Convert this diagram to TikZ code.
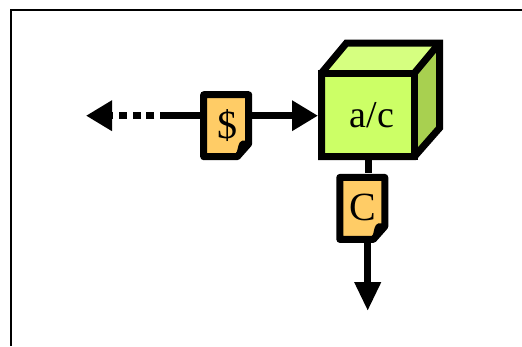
\documentclass[tikz,border=0pt]{standalone}
\usepackage{fontspec}
\setmainfont{Liberation Serif}
\usetikzlibrary{arrows.meta}
\definecolor{cubefront}{HTML}{CCFF66}
\definecolor{cubetop}{HTML}{D6FF80}
\definecolor{cubeside}{HTML}{A8D050}
\definecolor{notefill}{HTML}{FFCC66}
\tikzset{
  cubeline/.style={line width=7pt, draw=black, line join=miter},
  noteline/.style={line width=7pt, draw=black, fill=notefill, line join=round},
  notelabel/.style={inner sep=0pt, outer sep=0pt, minimum width=52pt, minimum height=70pt, font=\fontsize{40}{40}\selectfont},
  conn/.style={line width=7pt},
  connarrow/.style={line width=7pt, -{Triangle[length=26pt,width=29pt]}},
}
\newcommand{\notenode}[5]{
\begin{scope}[shift={(#2,#3)}]
\draw[noteline] (-22.5,-31) -- (22.5,-31) -- (22.5,18) -- (11,31) -- (-22.5,31) -- cycle;
\fill[black] (10,29) .. controls (12,22) and (12,16) .. (16,15) -- (22.5,15) -- (22.5,20) -- (11,31) -- cycle;
\node[notelabel] (#1) at (0,0) {\raisebox{#5}{\hspace*{2pt}#4}};
\end{scope}
}
\begin{document}
\begin{tikzpicture}[x=1pt,y=-1pt]
\useasboundingbox (0,0) rectangle (522,346);
\draw[line width=2pt] (11,346)--(11,10)--(522,10);
\coordinate (backleft) at (346.5,43);
\coordinate (backright) at (439.5,43);
\coordinate (backlow) at (439.5,128);
\coordinate (frontnw) at (321.5,73);
\coordinate (frontne) at (414.5,73);
\coordinate (frontse) at (414.5,156.5);
\coordinate (frontsw) at (321.5,156.5);
\fill[cubetop] (frontnw)--(backleft)--(backright)--(frontne)--cycle;
\fill[cubeside] (frontne)--(backright)--(backlow)--(frontse)--cycle;
\node[cubeline, fill=cubefront, inner sep=0pt, minimum width=93pt, minimum height=83.5pt, font=\fontsize{38}{38}\selectfont] (front) at (368,114.75) {\hspace*{8pt}a/c};
\draw[cubeline] (frontnw)--(backleft)--(backright)--(backlow)--(frontse)--(frontsw)--cycle;
\draw[cubeline] (frontne)--(backright);
\notenode{dollar}{226.2}{125.7}{\$}{2pt}
\notenode{cnote}{362.3}{208.4}{C}{3pt}
\coordinate (dashstart) at (168,115.7);
\coordinate (dollarout) at (86,115.7);
\coordinate (cout) at (367.7,311);
\draw[conn] (dollar.west |- dashstart) -- (dashstart);
\draw[connarrow, dash pattern=on 8pt off 5.7pt] (dashstart) -- (dollarout);
\draw[connarrow] (dollar.east |- dashstart) -- (front.west |- dashstart);
\draw[conn] (front.south) -- (front.south |- cnote.north);
\draw[line width=7pt, -{Triangle[length=29pt,width=25pt]}] (cnote.south -| cout) -- (cout);
\end{tikzpicture}
\end{document}
